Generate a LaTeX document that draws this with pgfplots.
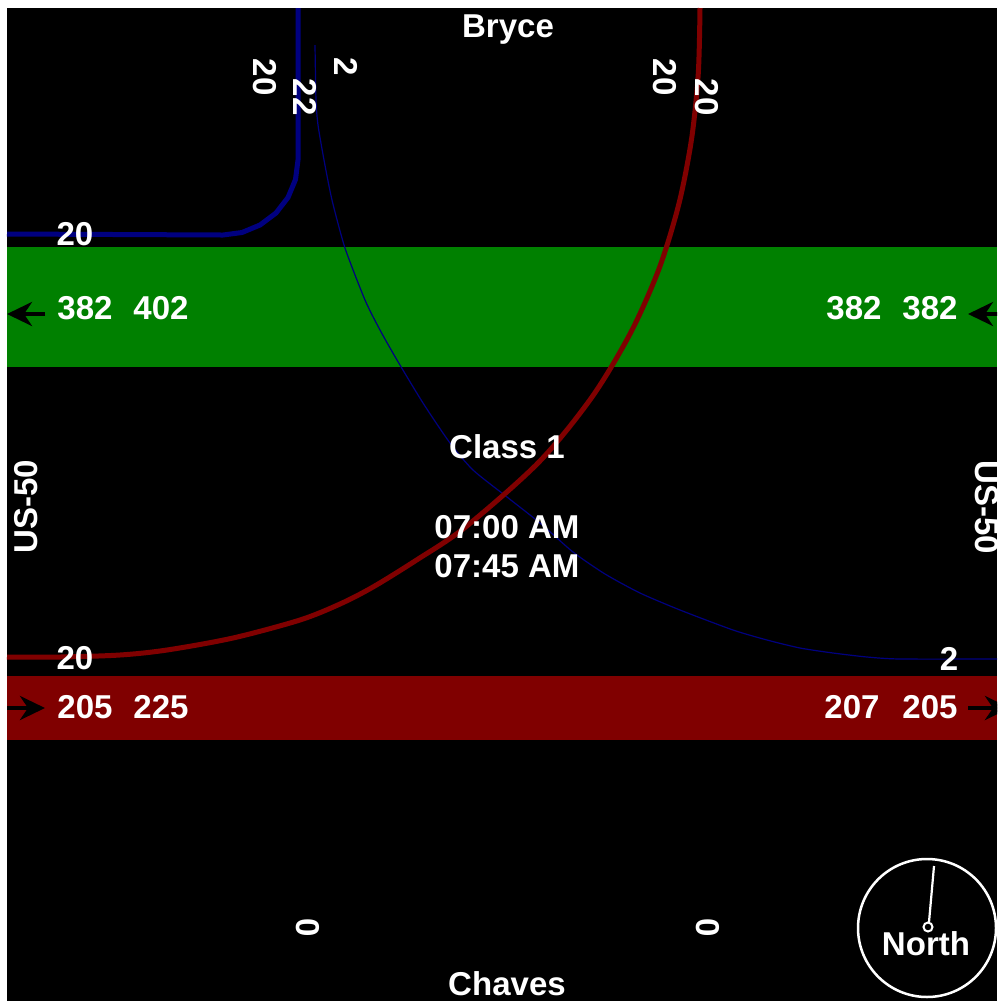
\documentclass[border=0pt]{standalone}
\usepackage{fontspec}
\setmainfont{Liberation Sans}
\usepackage{pgfplots}
\pgfplotsset{compat=1.18}
\usetikzlibrary{arrows.meta}
\definecolor{bandgreen}{HTML}{008000}
\definecolor{bandred}{HTML}{800000}
\definecolor{navyblue}{HTML}{000080}

\begin{document}
\begin{tikzpicture}[
  lbl/.style={text=white, font=\bfseries\fontsize{9.4}{10}\selectfont, inner sep=0pt},
]
\begin{axis}[
  width=9.97cm, height=10.01cm, scale only axis,
  xmin=0, xmax=997, ymin=0, ymax=1001, y dir=reverse,
  hide axis, no markers,
]
% page and approach bands
\addplot[fill=white, draw=none] coordinates {(0,0) (997,0) (997,1001) (0,1001)};
\addplot[fill=black, draw=none] coordinates {(7,8) (997,8) (997,1001) (7,1001)};
\addplot[fill=bandgreen, draw=none] coordinates {(7,247) (997,247) (997,367) (7,367)};
\addplot[fill=bandred, draw=none] coordinates {(7,676) (997,676) (997,740) (7,740)};

% blue thick turn (Bryce -> US-50 west)
\addplot[navyblue, line width=0.05cm] coordinates {
  (7,234) (223,235) (242,232.5) (260,225) (276,213) (288,197.5) (295.5,179.5) (298,160) (298,8)};

% blue thin turn
\addplot[navyblue, line width=0.012cm, smooth, tension=0.4] coordinates {
  (315,45) (316,100) (318,125) (324,160) (332,200) (345,248) (365,300) (380,330)
  (397,360) (423,403) (450,443) (473,470) (507,497) (540,523) (573,552) (605,574)
  (640,593) (680,610) (733,630) (767,640) (800,648) (833,653) (867,657) (900,659) (997,659)};

% red thick turn
\addplot[bandred, line width=0.05cm, smooth, tension=0.5] coordinates {
  (700,8) (698.3,73) (691.7,138) (679.1,203) (659.3,268) (631,332) (592,397)
  (539,462) (465.6,527) (416.6,560) (373,587) (340,604) (300,620) (233,638)
  (167,650) (120,655) (60,657) (7,657)};

% arrows
\addplot[black, line width=0.04cm, -{Stealth[length=0.25cm, width=0.24cm, inset=0.08cm]}]
  coordinates {(45,314) (7,314)};
\addplot[black, line width=0.04cm, -{Stealth[length=0.25cm, width=0.24cm, inset=0.08cm]}]
  coordinates {(1020,314) (968,314)};
\addplot[black, line width=0.04cm, -{Stealth[length=0.25cm, width=0.24cm, inset=0.08cm]}]
  coordinates {(7,708) (45,708)};
\addplot[black, line width=0.04cm, -{Stealth[length=0.25cm, width=0.24cm, inset=0.08cm]}]
  coordinates {(968,708) (1010,708)};

% north arrow
\draw[white, line width=0.025cm] (axis cs:927,928) circle[radius=0.69cm];
\addplot[white, line width=0.022cm] coordinates {(934,866) (929,922)};
\draw[white, line width=0.02cm, fill=black] (axis cs:928,927) circle[radius=0.045cm];
\node[lbl, anchor=base] at (axis cs:926,955) {North};

% street names
\node[lbl, anchor=base] at (axis cs:508,37) {Bryce};
\node[lbl, anchor=base] at (axis cs:507,995) {Chaves};
\node[lbl, rotate=90] at (axis cs:26,507) {US-50};
\node[lbl, rotate=-90] at (axis cs:987,507) {US-50};

% centre
\node[lbl, anchor=base] at (axis cs:507,458) {Class 1};
\node[lbl, anchor=base] at (axis cs:507,538) {07:00 AM};
\node[lbl, anchor=base] at (axis cs:507,577) {07:45 AM};

% north leg volumes
\node[lbl, rotate=-90] at (axis cs:265,77) {20};
\node[lbl, rotate=-90] at (axis cs:305,97) {22};
\node[lbl, rotate=-90] at (axis cs:346,67) {2};
\node[lbl, rotate=-90] at (axis cs:665,77) {20};
\node[lbl, rotate=-90] at (axis cs:707,97) {20};

% south leg volumes
\node[lbl, rotate=-90] at (axis cs:308,928) {0};
\node[lbl, rotate=-90] at (axis cs:708,928) {0};

% west leg volumes
\node[lbl, anchor=base] at (axis cs:75,245) {20};
\node[lbl, anchor=base] at (axis cs:85,319) {382};
\node[lbl, anchor=base] at (axis cs:161,319) {402};
\node[lbl, anchor=base] at (axis cs:75,669) {20};
\node[lbl, anchor=base] at (axis cs:85,718) {205};
\node[lbl, anchor=base] at (axis cs:161,718) {225};

% east leg volumes
\node[lbl, anchor=base] at (axis cs:854,319) {382};
\node[lbl, anchor=base] at (axis cs:930,319) {382};
\node[lbl, anchor=base] at (axis cs:949,670) {2};
\node[lbl, anchor=base] at (axis cs:852,718) {207};
\node[lbl, anchor=base] at (axis cs:930,718) {205};

\coordinate (bbSW) at (axis cs:0,1001);
\coordinate (bbNE) at (axis cs:997,0);
\end{axis}
\pgfresetboundingbox
\path[use as bounding box] (bbSW) rectangle (bbNE);
\end{tikzpicture}
\end{document}
